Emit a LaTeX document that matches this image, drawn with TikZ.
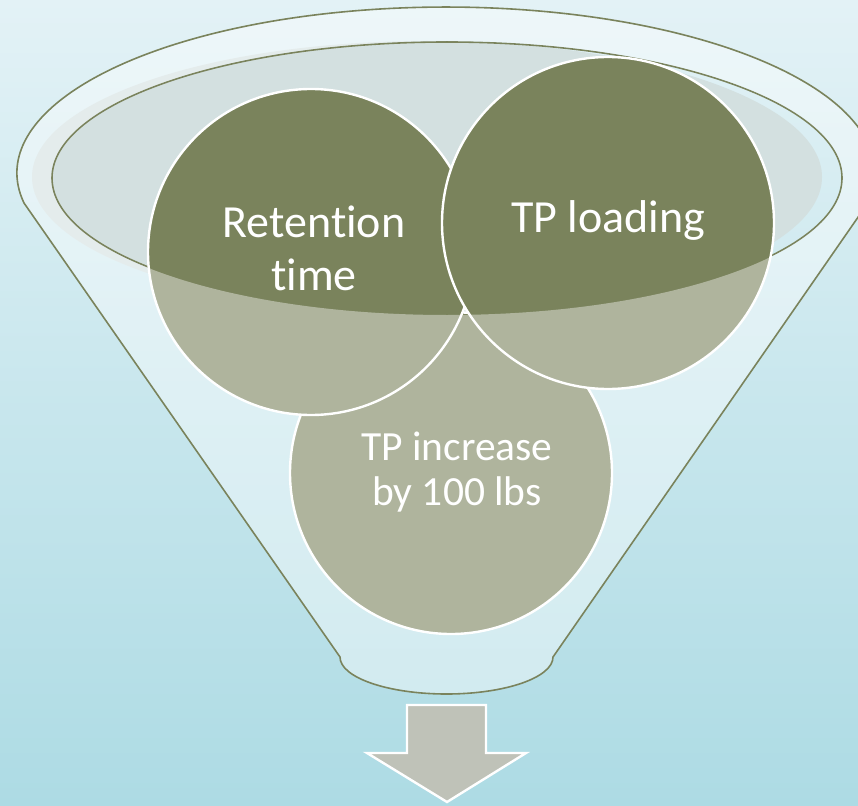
\documentclass[tikz,border=0pt]{standalone}
\usepackage{fontspec}
\setmainfont{Carlito}[Ligatures=NoCommon]
\definecolor{bgtop}{HTML}{E3F2F6}
\definecolor{bgbot}{HTML}{ADDBE4}
\definecolor{funnelline}{HTML}{7A835C}
\definecolor{bubblefill}{HTML}{7A835C}
\definecolor{hollow}{HTML}{D3E0E0}
\definecolor{arrowfill}{HTML}{BFC2B8}
\begin{document}
\begin{tikzpicture}[x=1pt,y=-1pt,
  rim/.style={draw=funnelline, line width=1.6pt},
  bubble/.style={circle, fill=bubblefill, draw=white, line width=2.4pt, inner sep=0pt, minimum size=#1},
  lbl/.style={text=white, anchor=base, inner sep=0pt, font=\fontsize{46}{53}\selectfont},
  lblsmall/.style={text=white, anchor=base, inner sep=0pt, font=\fontsize{41.5}{45}\selectfont},
  funnelshape/.style={insert path={(340,657) -- (24,203)
      arc[start angle=169.6, end angle=370.4, x radius=429, y radius=166]
      -- (553,657) arc[start angle=0, end angle=180, x radius=106.5, y radius=37] -- cycle}}]
\useasboundingbox (0,0) rectangle (858,805);
\shade[top color=bgtop, bottom color=bgbot] (0,0) rectangle (858,805);
% hollow of the funnel mouth
\fill[hollow] (427,177) ellipse[x radius=395, y radius=136];
\draw[rim] (447,178) ellipse[x radius=395, y radius=136];
% circles
\node[bubble=322pt] (inc) at (451,473) {};
\node[bubble=326pt] (ret) at (311,252) {};
\node[bubble=332pt] (load) at (608,223) {};
% translucent funnel body
\fill[white, fill opacity=0.4, even odd rule, funnelshape] (447,178) ellipse[x radius=396, y radius=137];
\draw[rim, funnelshape];
% labels
\node[lbl] (ret1) at (314,237) {Retention};
\node[lbl] (ret2) at (314,290) {time};
\node[lbl] (load1) at (608,232) {TP loading};
\node[lblsmall] (inc1) at (457,460) {TP increase};
\node[lblsmall] (inc2) at (457,505) {by 100 lbs};
% outlet arrow
\draw[fill=arrowfill, draw=white, line width=2.4pt, line join=miter]
  (407,705) -- (486,705) -- (486,753) -- (526,753) -- (447,802) -- (367,753) -- (407,753) -- cycle;
\end{tikzpicture}
\end{document}
